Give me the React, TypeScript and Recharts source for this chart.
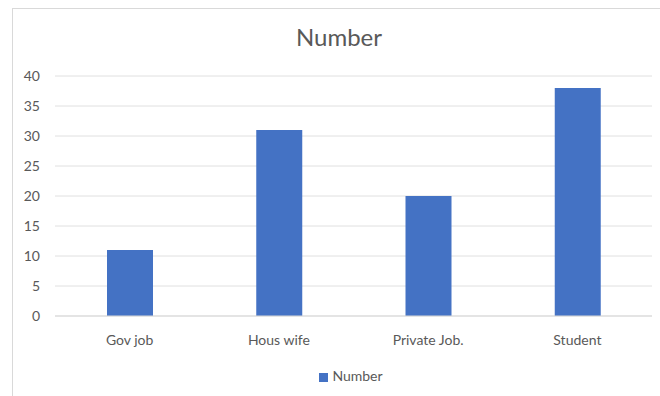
import { BarChart, Bar, XAxis, YAxis, CartesianGrid, Legend } from "recharts";

const categories = ["Gov job", "Hous wife", "Private Job.", "Student"];
const numbers = [11, 31, 20, 38];
const yTicks = [0, 5, 10, 15, 20, 25, 30, 35, 40];

const data = categories.map((name, i) => ({ name, Number: numbers[i] }));

const FONT = "Lato, 'Open Sans', sans-serif";
const TEXT = "#595959";

export default function App() {
  return (
    <div
      style={{
        position: "absolute",
        left: 0,
        top: 0,
        width: 660,
        height: 396,
        background: "#fff",
        overflow: "hidden",
        fontFamily: FONT,
      }}
    >
      {/* chart frame, only the top and left edges are in view */}
      <div
        style={{
          position: "absolute",
          left: 12,
          top: 8,
          width: 700,
          height: 450,
          borderLeft: "1px solid #d9d9d9",
          borderTop: "1px solid #d9d9d9",
        }}
      />
      <div
        style={{
          position: "absolute",
          left: 0,
          width: 678,
          top: 22,
          textAlign: "center",
          fontSize: 24,
          color: TEXT,
        }}
      >
        Number
      </div>
      <div style={{ position: "absolute", left: 0, top: 0 }}>
        <BarChart
          width={660}
          height={396}
          data={data}
          margin={{ top: 76, right: 8, bottom: 33, left: 0 }}
          barCategoryGap={0}
        >
          <CartesianGrid stroke="#e0e0e0" vertical={false} />
          <XAxis
            dataKey="name"
            height={30}
            axisLine={{ stroke: "#d9d9d9" }}
            tickLine={false}
            tickMargin={13}
            tick={{ fill: TEXT, fontSize: 14, fontFamily: FONT }}
          />
          <YAxis
            width={55}
            domain={[0, 40]}
            ticks={yTicks}
            axisLine={false}
            tickLine={false}
            tickMargin={9}
            tick={{ fill: TEXT, fontSize: 14, fontFamily: FONT }}
          />
          <Legend
            verticalAlign="bottom"
            iconType="square"
            iconSize={9}
            wrapperStyle={{ bottom: 12, left: 30, fontSize: 14, fontFamily: FONT }}
            formatter={(v) => <span style={{ color: TEXT }}>{v}</span>}
          />
          <Bar dataKey="Number" fill="#4472C4" barSize={46} isAnimationActive={false} />
        </BarChart>
      </div>
    </div>
  );
}
